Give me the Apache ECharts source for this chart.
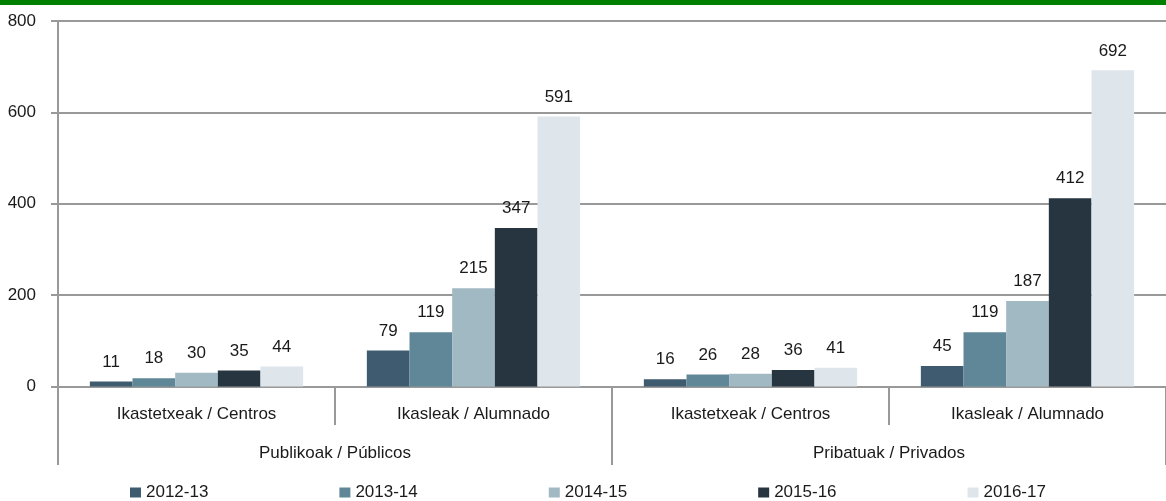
<!DOCTYPE html>
<html>
<head>
<meta charset="utf-8">
<script src="https://cdn.jsdelivr.net/npm/echarts@6/dist/echarts.min.js"></script>
<style>
html,body{margin:0;padding:0;background:#fff;}
#chart{width:1166px;height:501px;}
</style>
</head>
<body>
<div id="chart"></div>
<script>
const categories = ['Ikastetxeak / Centros', 'Ikasleak / Alumnado', 'Ikastetxeak / Centros', 'Ikasleak / Alumnado'];
const groups = ['Publikoak / Públicos', 'Pribatuak / Privados'];
const seriesNames = ['2012-13', '2013-14', '2014-15', '2015-16', '2016-17'];
const s2012 = [11, 79, 16, 45];
const s2013 = [18, 119, 26, 119];
const s2014 = [30, 215, 28, 187];
const s2015 = [35, 347, 36, 412];
const s2016 = [44, 591, 41, 692];
const colors = ['#3e5b70', '#5f8797', '#a0b9c3', '#263540', '#dee6ec'];

const FONT = '"Liberation Sans", Arial, sans-serif';
const FS = 17;
const TXT = '#1a1a1a';
const GRAY = '#999999';

const chart = echarts.init(document.getElementById('chart'));
const values = [s2012, s2013, s2014, s2015, s2016];

chart.setOption({
  animation: false,
  textStyle: { fontFamily: FONT },
  graphic: [{
    type: 'rect', left: 0, top: 0,
    shape: { width: 1166, height: 5 },
    style: { fill: '#008000' }
  }],
  legend: {
    left: 125, top: 479,
    itemWidth: 11, itemHeight: 10, itemGap: 131,
    icon: 'rect',
    textStyle: { fontFamily: FONT, fontSize: FS, color: TXT },
    data: seriesNames
  },
  grid: { left: 58, top: 21, width: 1114, height: 365.5, containLabel: false },
  xAxis: [{
    type: 'category', data: categories, position: 'bottom',
    axisLine: { lineStyle: { color: GRAY, width: 2 } },
    axisTick: { show: true, length: 38.5, interval: 0, lineStyle: { color: GRAY, width: 2 } },
    axisLabel: { interval: 0, margin: 19, fontFamily: FONT, fontSize: FS, color: TXT }
  }, {
    type: 'category', data: groups, position: 'bottom', offset: 38.5,
    axisLine: { show: false },
    axisTick: { show: true, length: 40, interval: 0, lineStyle: { color: GRAY, width: 2 } },
    axisLabel: { interval: 0, margin: 20, fontFamily: FONT, fontSize: FS, color: TXT }
  }],
  yAxis: {
    type: 'value', min: 0, max: 800, interval: 200,
    axisLine: { show: true, lineStyle: { color: GRAY, width: 2 } },
    axisTick: { show: true, length: 7, lineStyle: { color: GRAY, width: 2 } },
    splitLine: { show: true, lineStyle: { color: GRAY, width: 2 } },
    axisLabel: { margin: 22, fontFamily: FONT, fontSize: FS, color: TXT }
  },
  series: seriesNames.map((n, i) => ({
    name: n, type: 'bar', xAxisIndex: 0,
    data: values[i],
    barGap: '0%', barCategoryGap: '23%',
    itemStyle: { color: colors[i] },
    label: { show: true, position: 'top', distance: 11, fontFamily: FONT, fontSize: FS, color: TXT }
  }))
});
</script>
</body>
</html>
